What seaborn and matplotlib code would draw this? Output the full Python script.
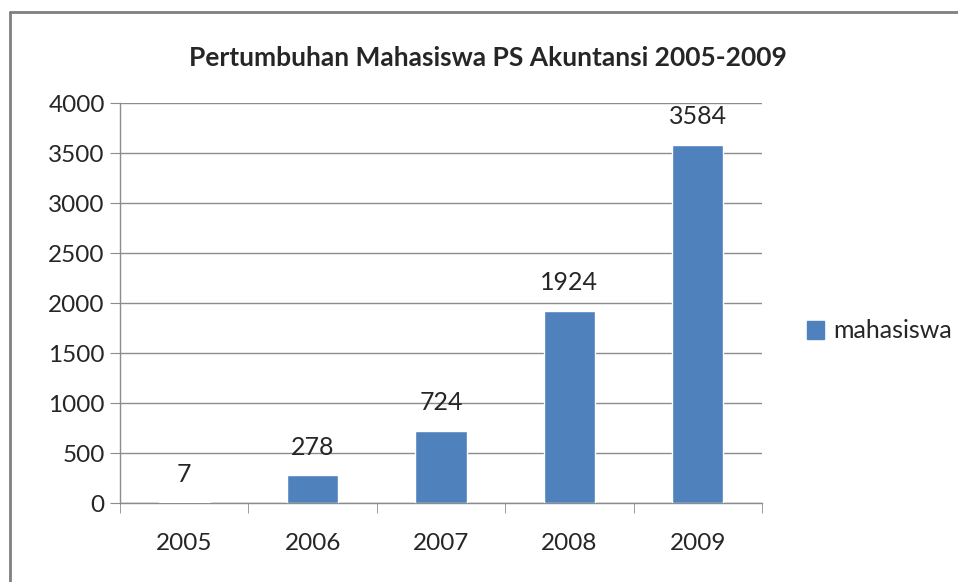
import matplotlib
matplotlib.use("Agg")
import matplotlib.pyplot as plt
import seaborn as sns
import pandas as pd
from matplotlib.lines import Line2D
from matplotlib.patches import Patch

tahun = ["2005", "2006", "2007", "2008", "2009"]
mahasiswa = [7, 278, 724, 1924, 3584]

df = pd.DataFrame({"tahun": tahun, "mahasiswa": mahasiswa})

sns.set_style("white")
plt.rcParams["font.family"] = ["Lato", "DejaVu Sans"]

fig = plt.figure(figsize=(9.58, 5.82), dpi=100)
ax = fig.add_axes([120/958, 1-503/582, (762-120)/958, 400/582])

sns.barplot(data=df, x="tahun", y="mahasiswa", color="#4F81BD", width=0.4,
            saturation=1, ax=ax, zorder=3)

ax.set_ylim(0, 4000)
ax.set_xlim(-0.5, 4.5)
ax.set_yticks(range(0, 4001, 500))
ax.grid(axis="y", color="#8c8c8c", linewidth=1, zorder=0)
ax.set_xlabel("")
ax.set_ylabel("")

for s in ["top", "right"]:
    ax.spines[s].set_visible(False)
for s in ["left", "bottom"]:
    ax.spines[s].set_color("#8c8c8c")
    ax.spines[s].set_linewidth(1)

ax.tick_params(axis="y", left=True, length=7, color="#8c8c8c", labelsize=17.5, pad=4)
ax.tick_params(axis="x", bottom=False, labelsize=17.5, pad=18)
# category boundary ticks
ax.set_xticks([i - 0.5 for i in range(6)], minor=True)
ax.tick_params(axis="x", which="minor", bottom=True, length=7, color="#8c8c8c")

for c in ax.containers:
    ax.bar_label(c, labels=[str(v) for v in mahasiswa], padding=12, fontsize=18)

ax.set_title("Pertumbuhan Mahasiswa PS Akuntansi 2005-2009", fontsize=19,
             fontweight="bold", pad=27, x=(488-120)/642)

ax.legend(handles=[Patch(color="#4F81BD", label="mahasiswa")], loc="center left",
          bbox_to_anchor=(1.035, 0.43), frameon=False, fontsize=18,
          handlelength=0.7, handleheight=0.7, handletextpad=0.35)

# outer chart border
fig.add_artist(Line2D([10/958, 10/958], [0, 1-12/582], color="#808080", linewidth=2))
fig.add_artist(Line2D([10/958, 1], [1-12/582, 1-12/582], color="#808080", linewidth=2))

fig.savefig("out.png", dpi=100)
